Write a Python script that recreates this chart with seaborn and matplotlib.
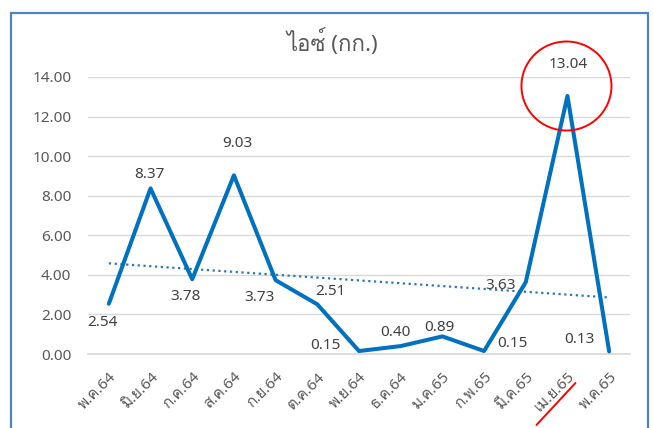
"""
Ice seizures (kg) per month, May 2021 - May 2022, with linear trend.
"""

import numpy as np
import pandas as pd
import matplotlib
matplotlib.use("Agg")
import matplotlib.pyplot as plt
import seaborn as sns
from matplotlib import font_manager
from matplotlib.ft2font import FT2Font
from matplotlib.patches import Ellipse, Rectangle
from matplotlib.lines import Line2D
from matplotlib.transforms import IdentityTransform

# ── Data ─────────────────────────────────────────────────────────────────────
MONTHS = ["พ.ค.64", "มิ.ย.64", "ก.ค.64", "ส.ค.64", "ก.ย.64", "ต.ค.64", "พ.ย.64",
          "ธ.ค.64", "ม.ค.65", "ก.พ.65", "มี.ค.65", "เม.ย.65", "พ.ค.65"]
ICE_KG = [2.54, 8.37, 3.78, 9.03, 3.73, 2.51, 0.15, 0.40, 0.89, 0.15, 3.63, 13.04, 0.13]
Y_TICKS = [0, 2, 4, 6, 8, 10, 12, 14]
TITLE = "ไอซ์ (กก.)"
HIGHLIGHT = 11  # เม.ย.65

# label offsets in pixels (dx, dy) relative to the point, as placed in the original
LABEL_OFFSETS = [(-6, -19), (-1, 14), (-7, -17), (3, 32), (-16, -17), (13, 13),
                 (-34, 6), (-5, 14), (-3, 9), (28, 8), (-25, -3), (1, 31), (-30, 12)]

LINE_COLOR = "#0070C0"
TREND_COLOR = "#2E75B6"
GRID_COLOR = "#D9D9D9"
TICK_COLOR = "#595959"
LABEL_COLOR = "#404040"
BORDER_COLOR = "#4F81C7"


def find_thai_font():
    for f in font_manager.fontManager.ttflist:
        try:
            if 0x0E01 in FT2Font(f.fname).get_charmap():
                return f.name
        except Exception:
            continue
    return None


sns.set_theme(style="white")
thai = find_thai_font()
families = ["Noto Sans"] + ([thai] if thai else []) + ["DejaVu Sans"]
plt.rcParams["font.family"] = families

df = pd.DataFrame({"idx": np.arange(len(MONTHS)), "kg": ICE_KG})
slope, intercept = np.polyfit(df["idx"], df["kg"], 1)
df["trend"] = intercept + slope * df["idx"]

fig = plt.figure(figsize=(6.54, 4.28), dpi=100)
ax = fig.add_axes([88 / 654, 1 - 354 / 428, (630 - 88) / 654, (354 - 77) / 428])

sns.lineplot(data=df, x="idx", y="trend", ax=ax, color=TREND_COLOR,
             linewidth=1.6, linestyle=(0, (1, 1.6)), zorder=2)
sns.lineplot(data=df, x="idx", y="kg", ax=ax, color=LINE_COLOR,
             linewidth=2.9, zorder=3)

ax.set_xlim(-0.5, len(MONTHS) - 0.5)
ax.set_ylim(0, 14)
ax.set_yticks(Y_TICKS)
ax.set_yticklabels([f"{v:.2f}" for v in Y_TICKS], fontsize=11, color=TICK_COLOR)
ax.set_xticks(df["idx"])
ax.set_xticklabels(MONTHS, fontsize=11, color=TICK_COLOR, rotation=45,
                   ha="right", rotation_mode="anchor")
ax.tick_params(axis="x", length=0, pad=11)
ax.tick_params(axis="y", length=0, pad=12)
ax.set_xlabel("")
ax.set_ylabel("")
ax.grid(axis="y", color=GRID_COLOR, linewidth=1)
ax.grid(axis="x", visible=False)
for side in ["left", "right", "top"]:
    ax.spines[side].set_visible(False)
ax.spines["bottom"].set_color(GRID_COLOR)
ax.set_facecolor("none")

# data labels
for i, v in enumerate(ICE_KG):
    dx, dy = LABEL_OFFSETS[i]
    ax.annotate(f"{v:.2f}", (i, v), xytext=(dx, dy), textcoords="offset pixels",
                ha="center", va="center", fontsize=11, color=LABEL_COLOR)

fig.text(332 / 654, 1 - 43 / 428, TITLE, ha="center", va="center",
         fontsize=16, color=TICK_COLOR)

# chart frame
fig.add_artist(Rectangle((11, -20), 637, 435, transform=IdentityTransform(),
                         fill=False, edgecolor=BORDER_COLOR, linewidth=1.6))

# red circle around the peak and red slash under its month
px, py = ax.transData.transform((HIGHLIGHT, ICE_KG[HIGHLIGHT]))
fig.add_artist(Ellipse((px - 1, py + 10), 90, 89, transform=IdentityTransform(),
                       fill=False, edgecolor="red", linewidth=1.4))
fig.add_artist(Line2D([px - 31, px + 8], [3, 45], transform=IdentityTransform(),
                      color="red", linewidth=1.4))

fig.savefig("out.png", dpi=100)
